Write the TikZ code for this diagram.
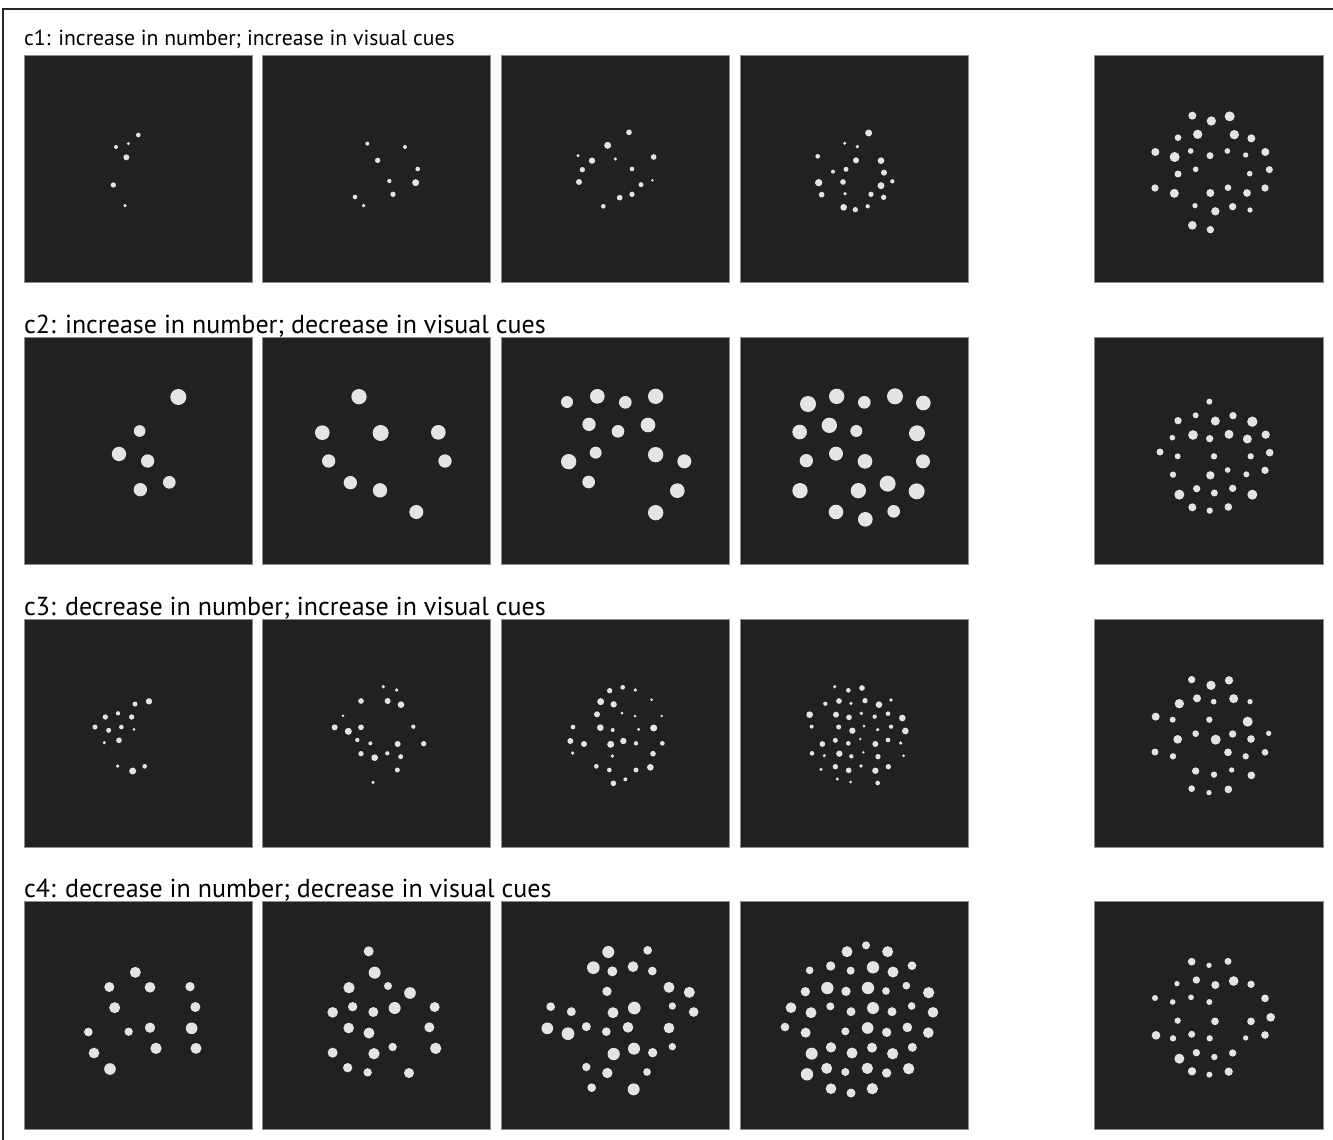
\documentclass[tikz,border=0pt]{standalone}
\usepackage{fontspec}
\setmainfont{PT Sans}
\definecolor{panelbg}{HTML}{212121}
\definecolor{paneledge}{HTML}{8C8C8C}
\definecolor{dotc}{HTML}{E4E4E4}
\newcommand\dotset[3]{\begin{scope}[shift={(#1,#2)},scale=1/3]
\foreach \a/\b/\d in {#3} \fill[dotc] (\a,\b) circle[radius=\d/2];
\end{scope}}
\tikzset{
  panel/.style={fill=panelbg, draw=paneledge, line width=0.8pt},
  lab/.style={anchor=base west, inner sep=0pt, font=\fontsize{26}{30}\selectfont},
  labsmall/.style={anchor=base west, inner sep=0pt, font=\fontsize{21.7}{26}\selectfont},
  frame/.style={line width=2.4pt, black!85}
}
\begin{document}
\begin{tikzpicture}[x=1pt,y=-1pt]
\useasboundingbox (0,0) rectangle (1333,1140);
\fill[white] (0,0) rectangle (1333,1140);
\draw[frame] (3,1141) -- (3,9) -- (1334,9);
% panels
\foreach \yt/\yb in {55/282,337/564.5,619/847,901/1129}{
  \foreach \xl/\xr in {24/252,262.5/490,501/729.5,740/968,1094.5/1323}{
    \draw[panel] (\xl,\yt) rectangle (\xr,\yb);
  }
}
% labels
\node[labsmall] (c1) at (24,46) {c1: increase in number; increase in visual cues};
\node[lab] (c2) at (24,333) {c2: increase in number; decrease in visual cues};
\node[lab] (c3) at (24,615) {c3: decrease in number; increase in visual cues};
\node[lab] (c4) at (24,897) {c4: decrease in number; decrease in visual cues};
% row 1 cols 1-2
\dotset{24}{55}{343/240/14,276/276/12,313/266/10,307/307/18,268/390/16,303/452/11,
1030/266/12,1143/276/12,1061/316/16,1181/342/14,1096/378/13,1175/383/21,1107/418/16,993/426/14,1019/452/11}
% row 1 cols 3-4
\dotset{500}{55}{387/232/17,323/271/21,234/302/10,276/317/19,346/312/10,461/306/17,247/344/16,396/342/14,237/381/18,457/376/8,423/389/15,359/428/17,396/418/16,310/454/14,
1106/234/21,1034/265/10,1072/275/11,953/304/14,1068/316/18,1143/317/20,999/350/12,1038/343/15,1152/353/18,956/383/22,1029/381/17,1177/379/13,1143/392/21,965/419/17,1035/416/11,1113/418/16,1151/427/16,1031/457/20,1066/464/16,1103/454/13}
% row 2 cols 1-2
\dotset{24}{337}{463/180/48,347/282/35,285/351/43,371/372/40,436/436/38,349/458/40,
1005/179/46,895/287/44,1070/288/48,1243/286/44,914/372/40,1263/372/40,979/437/40,1068/460/43,1177/525/42}
% row 2 cols 3-4
\dotset{500}{337}{201/195/36,292/178/44,376/196/38,467/178/46,267/262/40,354/283/38,444/264/44,287/347/36,206/374/46,467/353/46,553/373/42,266/435/38,532/461/44,467/527/46,
924/201/48,1010/178/46,1093/196/38,1185/178/48,1270/198/44,899/285/44,988/265/46,1069/282/36,1251/289/48,919/371/40,1008/350/42,1095/373/44,1269/373/42,900/461/46,1075/461/46,1163/440/48,1250/463/48,1008/525/44,1096/547/44,1181/523/38}
% row 3 cols 1-2
\dotset{24}{619}{375/247/19,333/255/15,282/283/13,244/294/16,323/294/16,213/324/15,254/334/15,292/324/14,330/331/9,241/371/10,285/364/17,281/441/11,326/456/21,362/442/14,
1078/203/11,1118/213/11,1011/246/17,1091/246/18,1131/257/20,957/290/8,932/325/18,973/337/21,1011/325/17,1168/323/13,1000/363/13,1039/373/12,1121/375/18,1199/374/16,1011/404/16,1052/416/20,1090/403/13,1130/413/15,1120/453/15,1047/490/10}
% row 3 cols 3-4
\dotset{500}{619}{329/215/16,368/205/14,406/213/11,455/242/9,302/248/21,341/256/19,291/286/18,366/282/9,405/291/9,485/291/8,219/324/14,301/326/20,338/333/12,416/331/10,461/327/21,211/366/18,252/375/18,332/376/21,370/366/19,408/373/13,487/373/14,218/402/11,337/411/11,459/404/17,289/442/14,328/453/14,408/453/15,451/445/20,340/493/17,376/481/12,
1004/203/11,1045/214/14,1086/207/17,976/254/13,1017/246/17,1053/253/11,1095/245/16,1137/257/20,1173/243/11,929/287/20,1008/287/18,1047/295/17,1084/283/11,1124/293/13,1164/284/14,1207/297/20,935/323/12,1016/324/15,1057/335/19,1092/321/9,1133/332/11,1173/323/13,1216/336/20,967/375/17,1006/364/15,1045/373/14,1081/360/8,1126/375/18,1164/363/14,1202/372/11,936/403/14,973/410/10,1018/404/19,1054/412/13,1090/400/8,1134/413/16,1211/410/9,963/451/10,1006/443/16,1046/454/17,1083/441/11,1126/455/19,1165/443/16,1012/480/10,1052/489/9,1133/492/14}
% row 4 cols 1-2
\dotset{24}{901}{334/214/33,256/258/30,378/259/32,498/257/28,272/320/33,514/318/30,193/393/26,314/392/25,378/380/31,503/382/35,210/456/32,396/442/34,516/442/33,258/504/35,
1034/151/30,1052/215/36,975/260/34,1092/255/24,1158/276/35,926/334/32,986/317/28,1048/333/30,1112/321/36,1232/318/30,974/381/32,1035/396/33,1216/379/30,926/455/30,1050/458/34,1106/438/25,1235/442/34,971/500/28,1031/514/25,1155/516/30}
% row 4 cols 3-4
\dotset{500}{901}{325/153/36,443/148/26,280/200/38,337/211/30,399/197/32,457/210/26,321/271/28,507/259/33,568/274/33,152/317/26,214/332/27,339/335/33,403/321/38,517/315/22,581/333/29,142/382/35,204/398/38,259/377/27,319/392/26,384/379/32,507/381/32,341/459/37,402/443/36,458/455/28,517/437/22,259/498/25,322/516/31,441/513/23,275/560/26,401/565/36,
1041/152/33,1098/133/24,1163/152/33,929/208/23,992/195/28,1052/209/24,1119/199/37,1179/213/33,1236/194/26,916/272/28,982/261/37,1038/271/28,1104/261/37,1158/270/23,1219/254/23,1286/275/34,873/320/32,933/335/33,991/316/24,1053/332/27,1119/321/36,1176/332/27,1235/315/23,1299/334/32,855/378/26,917/395/30,1036/391/24,1103/381/35,1160/394/28,1222/379/29,1285/395/32,935/458/36,993/439/31,1056/456/33,1116/440/30,1178/458/34,1237/439/27,921/520/37,980/502/33,1036/513/24,1102/502/34,1160/516/28,1226/503/34,993/563/32,1053/576/27,1117/563/34}
% column 5 rows 1-2
\dotset{1095}{55}{292/182/24,349/198/28,404/184/30,249/248/20,308/238/28,418/239/28,469/250/24,181/291/24,239/306/30,287/288/17,345/302/21,397/288/17,452/300/16,511/291/24,249/357/21,302/343/17,464/356/17,523/344/21,180/399/22,238/415/27,346/414/24,399/398/20,456/414/23,510/399/22,300/452/16,361/469/25,413/455/22,465/465/16,292/511/26,346/524/22,
343/1040/18,249/1097/22,302/1081/18,361/1098/27,414/1082/22,472/1100/31,232/1148/17,294/1140/29,344/1151/22,402/1138/27,457/1152/27,512/1139/25,195/1191/21,248/1204/18,357/1204/19,467/1204/19,524/1193/23,234/1259/19,346/1261/25,398/1245/17,454/1258/18,510/1246/22,253/1319/30,305/1301/22,358/1314/21,413/1300/22,472/1319/30,292/1357/24,344/1367/19,400/1356/23}
% column 5 rows 3-4
\dotset{1095}{619}{290/182/22,348/199/28,402/184/25,253/254/28,306/238/24,356/248/17,416/239/27,465/248/16,182/293/24,233/302/18,343/302/19,458/308/30,248/361/26,302/344/20,362/362/30,413/345/22,468/360/23,521/343/16,180/399/21,234/412/19,399/400/23,452/412/19,510/400/20,302/456/22,357/467/19,410/453/16,469/469/23,290/509/20,342/521/16,400/511/23,
290/1028/23,342/1039/16,399/1027/21,246/1094/16,304/1083/22,361/1098/24,416/1086/29,468/1096/22,180/1137/18,233/1149/17,288/1135/17,343/1149/18,510/1138/23,248/1205/19,360/1207/23,468/1207/23,527/1195/26,183/1249/26,234/1258/19,290/1246/21,344/1258/19,452/1257/16,510/1248/23,253/1319/30,304/1301/22,358/1314/19,413/1302/22,291/1357/25,343/1367/18,401/1358/25}
\end{tikzpicture}
\end{document}
